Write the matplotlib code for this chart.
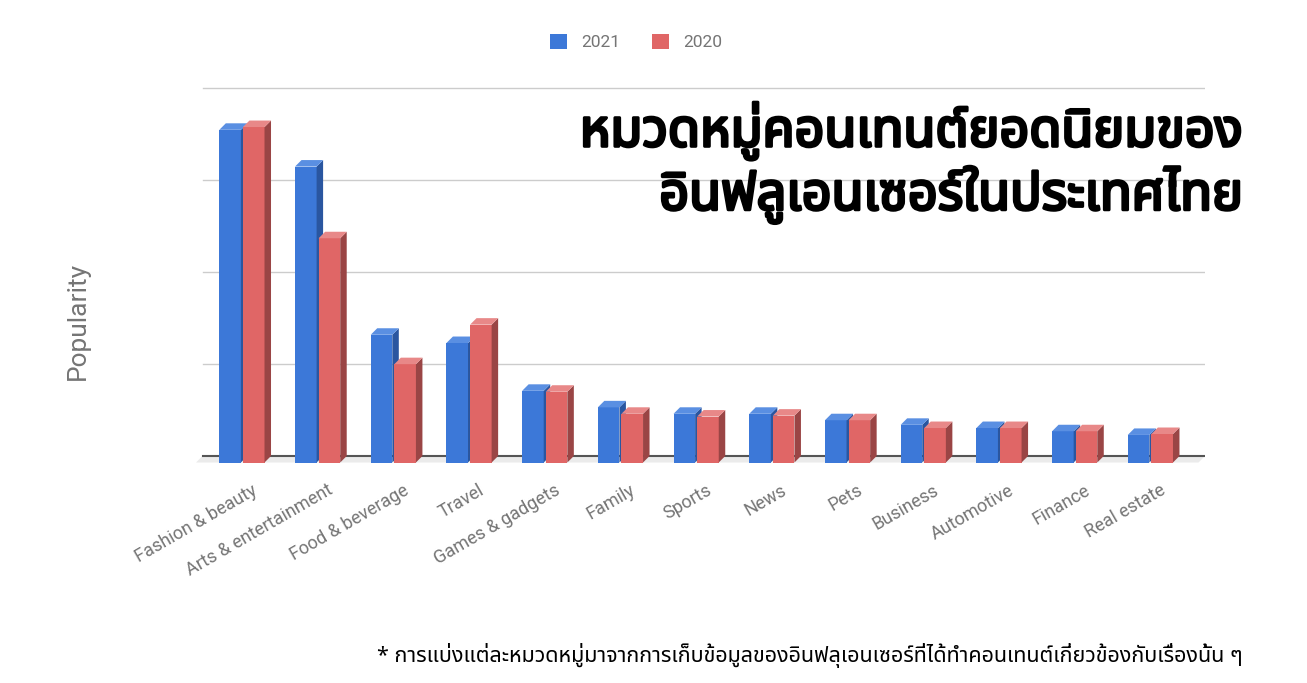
import numpy as np
import matplotlib
matplotlib.use('Agg')
import matplotlib.pyplot as plt
import matplotlib.patheffects as pe
from matplotlib import font_manager, ft2font
from matplotlib.patches import Polygon, Patch

categories = ['Fashion & beauty', 'Arts & entertainment', 'Food & beverage', 'Travel',
              'Games & gadgets', 'Family', 'Sports', 'News', 'Pets', 'Business',
              'Automotive', 'Finance', 'Real estate']
values_2021 = [3.62, 3.22, 1.39, 1.30, 0.78, 0.60, 0.53, 0.53, 0.46, 0.41, 0.375, 0.34, 0.30]
values_2020 = [3.65, 2.44, 1.07, 1.50, 0.77, 0.53, 0.50, 0.51, 0.46, 0.375, 0.375, 0.34, 0.31]
series_names = ['2021', '2020']

title_text = 'หมวดหมู่คอนเทนต์ยอดนิยมของ\nอินฟลูเอนเซอร์ในประเทศไทย'
note_text = '* การแบ่งแต่ละหมวดหมู่มาจากการเก็บข้อมูลของอินฟลุเอนเซอร์ที่ได้ทำคอนเทนต์เกี่ยวข้องกับเรื่องนั้น ๆ'


def find_thai_font():
    # pick the first installed font that has Thai glyphs
    preferred = ['Noto Sans Thai', 'Noto Sans Thai UI', 'Sarabun', 'Kanit', 'Loma', 'Garuda']
    found = []
    for f in font_manager.fontManager.ttflist:
        try:
            if 0x0E01 in ft2font.FT2Font(f.fname).get_charmap():
                found.append(f.name)
        except Exception:
            pass
    for p in preferred:
        if p in found:
            return p
    return found[0] if found else 'DejaVu Sans'


thai_font = find_thai_font()
plt.rcParams['font.family'] = ['Roboto', 'DejaVu Sans']

BLUE = ('#3c78d8', '#2a56a0', '#5a8fe2')   # front, side, top
RED = ('#e06666', '#9a4545', '#e88888')
GRAY = '#757575'

fig = plt.figure(figsize=(13.07, 6.83), dpi=100)
ax = fig.add_axes([196 / 1307, 1 - 462.5 / 683, 1009 / 1307, 386 / 683])
xmin, xmax = -0.608, 12.72
ax.set_xlim(xmin, xmax)
ax.set_ylim(0, 4.2)
for s in ax.spines.values():
    s.set_visible(False)
ax.set_yticks([])

# size of the 3d offset (about 6-7 px) in data units
fig.canvas.draw()
p0 = ax.transData.transform((0, 0))
p1 = ax.transData.transform((1, 1))
dx = 6.5 / (p1[0] - p0[0])
dy = 6.5 / (p1[1] - p0[1])

# floor and gridlines on the back plane
ax.add_patch(Polygon([(xmin, 0), (xmax - dx, 0), (xmax, dy), (xmin + dx, dy)],
                     closed=True, facecolor='#ebebeb', edgecolor='none', zorder=1))
for k in range(1, 5):
    ax.plot([xmin + dx, xmax], [k + dy, k + dy], color='#cccccc', lw=1, zorder=1)
ax.plot([xmin + dx, xmax], [dy, dy], color='#555555', lw=1.5, zorder=2)

x = np.arange(len(categories))
w = 0.285


def bar3d(left, h, cols):
    right = left + w
    ax.bar(left, h, width=w, align='edge', color=cols[0], zorder=3)
    ax.add_patch(Polygon([(right, 0), (right + dx, dy), (right + dx, h + dy), (right, h)],
                         closed=True, facecolor=cols[1], edgecolor='none', zorder=3))
    ax.add_patch(Polygon([(left, h), (left + dx, h + dy), (right + dx, h + dy), (right, h)],
                         closed=True, facecolor=cols[2], edgecolor='none', zorder=3))


for i in x:
    bar3d(i - 0.30, values_2021[i], BLUE)
    bar3d(i + 0.012, values_2020[i], RED)

ax.set_xticks(x + 0.18)
ax.set_xticklabels(categories, rotation=30, ha='right', va='center',
                   rotation_mode='anchor', color=GRAY, fontsize=13)
ax.tick_params(axis='x', length=0, pad=19)

handles = [Patch(facecolor=BLUE[0]), Patch(facecolor=RED[0])]
leg = fig.legend(handles, series_names, loc='center', bbox_to_anchor=(636 / 1307, 1 - 42 / 683),
                 ncol=2, frameon=False, handlelength=1.0, handleheight=1.0,
                 handletextpad=0.8, columnspacing=1.8, fontsize=12.5)
for t in leg.get_texts():
    t.set_color(GRAY)

fig.text(78 / 1307, 1 - 321 / 683, 'Popularity', rotation=90, ha='center', va='center',
         color=GRAY, fontsize=19)

fig.text(1243 / 1307, 1 - 163 / 683, title_text, ha='right', va='center',
         family=[thai_font, 'DejaVu Sans'], fontsize=37.5, fontweight='bold',
         color='black', linespacing=1.15,
         path_effects=[pe.withStroke(linewidth=2.2, foreground='black')])
fig.text(1243 / 1307, 1 - 655 / 683, note_text, ha='right', va='center',
         family=[thai_font, 'DejaVu Sans'], fontsize=15.5, color='black')

fig.savefig('out.png', dpi=100, facecolor='white')
